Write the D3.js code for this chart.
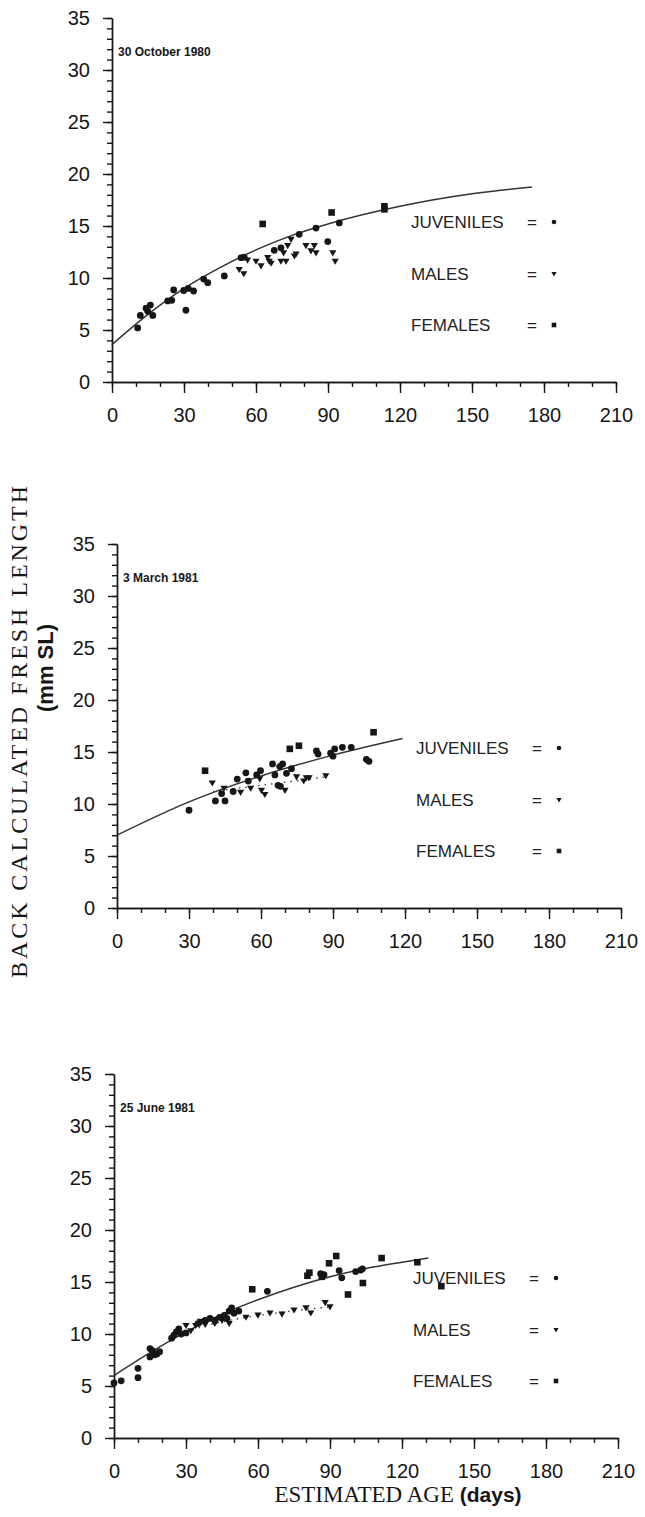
<!DOCTYPE html>
<html>
<head>
<meta charset="utf-8">
<script src="https://cdn.jsdelivr.net/npm/d3@7"></script>
<style>
  body { margin: 0; background: #fff; }
</style>
</head>
<body>
<div id="chart"></div>
<script>
// tick values and labels
const xTicks = [0, 30, 60, 90, 120, 150, 180, 210];
const yTicks = [0, 5, 10, 15, 20, 25, 30, 35];
const legendLabels = ["JUVENILES", "MALES", "FEMALES"];
const panelDates = ["30 October 1980", "3 March 1981", "25 June 1981"];

// 30 October 1980  [age days, length mm]
const oct80Juv = [[10.7,5.2],[11.8,6.4],[14.2,7.1],[16,7.4],[14.9,6.8],[17,6.4],[23.2,7.8],[24.9,7.85],
  [25.7,8.85],[29.9,8.8],[31.8,9.0],[30.8,6.9],[34,8.75],[38.2,9.9],[39.9,9.55],[46.8,10.2],[53.8,11.95],
  [55.1,12.0],[67.6,12.66],[70.4,12.9],[78,14.2],[85,14.8],[89.9,13.5],[94.7,15.3]];
const oct80Male = [[53,10.8],[54.9,10.4],[56.5,11.7],[60,11.6],[62.1,11.15],[64.9,11.95],[65.5,11.6],
  [66.3,11.4],[71.5,12.4],[70.4,11.6],[72.5,11.6],[73.2,13.1],[74.6,13.7],[76,12.1],[76.7,12.3],[80.8,13.1],
  [82.9,12.6],[84.3,13.1],[85,12.4],[92,12.4],[93,11.6]];
const oct80Fem = [[62.8,15.2],[91.5,16.3],[113.5,16.9],[113.5,16.6]];
const oct80Curve = [[0,3.6],[15,6.5],[30,9.0],[45,11.0],[60,12.7],[75,14.1],[90,15.2],[120,16.9],[150,18.1],[175,18.75]];

// 3 March 1981
const mar81Juv = [[30,9.4],[41,10.3],[43.6,11.0],[45,10.3],[48.4,11.2],[50.1,12.4],[53.7,13.0],[54.7,12.2],
  [58.2,12.8],[59.8,13.2],[64.8,13.85],[65.8,12.8],[67.8,13.6],[69,13.85],[67.1,11.8],[68.1,11.7],[70.6,12.95],
  [72.7,13.4],[83.1,15.1],[83.8,14.8],[89,14.9],[90,14.6],[90.7,15.3],[93.9,15.45],[97.6,15.45],[103.9,14.3],[105,14.1]];
const mar81Male = [[39.7,12.0],[44.6,11.5],[51.5,11.1],[55.7,11.5],[59.5,12.4],[60.2,11.3],[61.6,10.9],[70,11.3],
  [74.8,12.6],[77.8,12.2],[78.9,12.5],[80,12.5],[87,12.7]];
const mar81Fem = [[36.7,13.2],[72,15.3],[75.8,15.6],[106.9,16.9]];
const mar81Curve = [[0,7.0],[30,10.2],[60,12.7],[90,14.7],[119,16.3]];
const mar81MaleCurve = [[40,11.2],[60,11.8],[87,12.6]];

// 25 June 1981
const jun81Juv = [[0,5.3],[3,5.5],[10,5.8],[10,6.7],[15,7.8],[16,8.4],[17,8.0],[18,8.1],[19,8.3],[15,8.6],
  [24,9.6],[25,9.9],[26,10.2],[27,10.5],[28,10.0],[30,10.1],[35,11.0],[38,11.3],[40,11.5],[42,11.3],[44,11.6],
  [46,11.8],[47,11.5],[48,12.2],[49,12.5],[50,12.0],[52,12.2],[63.9,14.1],[86.1,15.8],[87.5,15.7],[93.8,16.1],
  [94.9,15.4],[100.7,16.0],[102.8,16.15],[103.5,16.25]];
const jun81Male = [[30,10.8],[32,10.3],[34,10.8],[36,11.2],[38,10.9],[42,11.0],[45,11.3],[48,11.0],[55,11.6],
  [60,11.8],[65,12.0],[70,11.9],[75,12.3],[80,12.5],[82,12.0],[88,13.0],[90,12.6]];
const jun81Fem = [[57.6,14.3],[80.6,15.6],[81.4,15.9],[86.6,15.5],[89.6,16.8],[92.6,17.5],[97.5,13.8],
  [103.7,14.9],[111.5,17.3],[126.4,16.9],[136.4,14.6]];
const jun81Curve = [[0,6.0],[15,8.2],[30,10.2],[45,11.9],[60,13.3],[75,14.5],[90,15.5],[105,16.3],[120,16.9],[131,17.3]];
const jun81MaleCurve = [[25,9.8],[40,10.9],[55,11.6],[70,12.1],[90,12.6]];

const panels = [
  { left: 112, bottom: 382, date: panelDates[0], juv: oct80Juv, male: oct80Male, fem: oct80Fem, curve: oct80Curve, maleCurve: null },
  { left: 117, bottom: 908, date: panelDates[1], juv: mar81Juv, male: mar81Male, fem: mar81Fem, curve: mar81Curve, maleCurve: mar81MaleCurve },
  { left: 114, bottom: 1438, date: panelDates[2], juv: jun81Juv, male: jun81Male, fem: jun81Fem, curve: jun81Curve, maleCurve: jun81MaleCurve }
];

const width = 645, height = 1517;
const ink = "#161616";

const svg = d3.select("#chart").append("svg")
  .attr("width", width).attr("height", height)
  .style("background", "#fff");

const triPath = (s) => `M${-s},${-s * 0.75}L${s},${-s * 0.75}L0,${s * 0.95}Z`;

function drawMarks(g, cls, data, x, y, kind, size) {
  const sel = g.append("g").attr("class", cls).selectAll("path").data(data).enter();
  if (kind === "circle") {
    sel.append("circle")
      .attr("cx", (d) => x(d[0])).attr("cy", (d) => y(d[1]))
      .attr("r", size).attr("fill", ink);
  } else if (kind === "square") {
    sel.append("rect")
      .attr("x", (d) => x(d[0]) - size).attr("y", (d) => y(d[1]) - size)
      .attr("width", size * 2).attr("height", size * 2).attr("fill", ink);
  } else {
    sel.append("path")
      .attr("transform", (d) => `translate(${x(d[0])},${y(d[1])})`)
      .attr("d", triPath(size)).attr("fill", ink);
  }
}

function drawPanel(p) {
  const x = d3.scaleLinear().domain([0, 210]).range([p.left, p.left + 504]);
  const y = d3.scaleLinear().domain([0, 35]).range([p.bottom, p.bottom - 364]);
  const g = svg.append("g");

  // x axis: minor ticks every 10, major every 30
  g.append("g")
    .attr("transform", `translate(0,${p.bottom})`)
    .call(d3.axisBottom(x).tickValues(d3.range(0, 211, 10)).tickSize(5).tickSizeOuter(0).tickFormat(""));
  g.append("g")
    .attr("class", "x-major")
    .attr("transform", `translate(0,${p.bottom})`)
    .call(d3.axisBottom(x).tickValues(xTicks).tickSize(11).tickSizeOuter(0).tickPadding(15));

  // y axis: minor every 1, major every 5
  g.append("g")
    .attr("transform", `translate(${p.left},0)`)
    .call(d3.axisLeft(y).tickValues(d3.range(0, 36, 1)).tickSize(5).tickSizeOuter(0).tickFormat(""));
  g.append("g")
    .attr("class", "y-major")
    .attr("transform", `translate(${p.left},0)`)
    .call(d3.axisLeft(y).tickValues(yTicks).tickSize(9).tickSizeOuter(0).tickPadding(13));

  g.selectAll(".domain, .tick line").attr("stroke", ink).attr("stroke-width", 1.4);
  g.selectAll(".tick text")
    .attr("fill", ink)
    .style("font-family", "'Liberation Sans', Arial, sans-serif")
    .style("font-size", "20px");

  // date label
  g.append("text")
    .attr("x", p.left + 6).attr("y", y(31.7) + 4)
    .style("font-family", "'Liberation Sans', Arial, sans-serif")
    .style("font-size", "12px").style("font-weight", "bold")
    .attr("fill", ink)
    .text(p.date);

  // fitted curves
  const line = d3.line().x((d) => x(d[0])).y((d) => y(d[1])).curve(d3.curveMonotoneX);
  g.append("path").datum(p.curve)
    .attr("fill", "none").attr("stroke", "#333").attr("stroke-width", 1.5)
    .attr("d", line);
  if (p.maleCurve) {
    g.append("path").datum(p.maleCurve)
      .attr("fill", "none").attr("stroke", "#333").attr("stroke-width", 1.3)
      .attr("stroke-dasharray", "1.5,5")
      .attr("d", line);
  }

  drawMarks(g, "juv", p.juv, x, y, "circle", 3.4);
  drawMarks(g, "male", p.male, x, y, "tri", 3.6);
  drawMarks(g, "fem", p.fem, x, y, "square", 3.3);

  // legend
  const kinds = ["circle", "tri", "square"];
  const legY = [p.bottom - 160, p.bottom - 108, p.bottom - 57];
  legendLabels.forEach((lab, i) => {
    const lg = g.append("g").attr("class", "legend");
    lg.append("text")
      .attr("x", p.left + 299).attr("y", legY[i])
      .attr("dy", "0.36em")
      .style("font-family", "'Liberation Sans', Arial, sans-serif")
      .style("font-size", "17px").attr("fill", "#222")
      .text(lab);
    lg.append("text")
      .attr("x", p.left + 420).attr("y", legY[i])
      .attr("dy", "0.36em").attr("text-anchor", "middle")
      .style("font-family", "'Liberation Sans', Arial, sans-serif")
      .style("font-size", "17px").attr("fill", "#222")
      .text("=");
    const sx = p.left + 442;
    if (kinds[i] === "circle") {
      lg.append("circle").attr("cx", sx).attr("cy", legY[i]).attr("r", 2.3).attr("fill", ink);
    } else if (kinds[i] === "square") {
      lg.append("rect").attr("x", sx - 2.3).attr("y", legY[i] - 2.3).attr("width", 4.6).attr("height", 4.6).attr("fill", ink);
    } else {
      lg.append("path").attr("transform", `translate(${sx},${legY[i]})`).attr("d", triPath(2.6)).attr("fill", ink);
    }
  });
}

panels.forEach(drawPanel);

// shared axis titles
const yTitle = svg.append("g").attr("transform", "translate(19,732) rotate(-90)");
yTitle.append("text")
  .attr("text-anchor", "middle").attr("dy", "0.35em")
  .attr("textLength", 492).attr("lengthAdjust", "spacing")
  .style("font-family", "'Liberation Serif', 'Times New Roman', serif")
  .style("font-size", "24px").attr("fill", ink)
  .text("BACK CALCULATED FRESH LENGTH");
svg.append("g").attr("transform", "translate(45,668) rotate(-90)")
  .append("text")
  .attr("text-anchor", "middle").attr("dy", "0.35em")
  .style("font-family", "'Liberation Sans', Arial, sans-serif")
  .style("font-size", "22px").style("font-weight", "bold").attr("fill", ink)
  .text("(mm SL)");

const xTitle = svg.append("text")
  .attr("x", 398).attr("y", 1502)
  .attr("text-anchor", "middle")
  .attr("fill", ink);
xTitle.append("tspan")
  .style("font-family", "'Liberation Serif', 'Times New Roman', serif")
  .style("font-size", "23px")
  .text("ESTIMATED AGE ");
xTitle.append("tspan")
  .style("font-family", "'Liberation Sans', Arial, sans-serif")
  .style("font-size", "21px").style("font-weight", "bold")
  .text("(days)");
</script>
</body>
</html>
